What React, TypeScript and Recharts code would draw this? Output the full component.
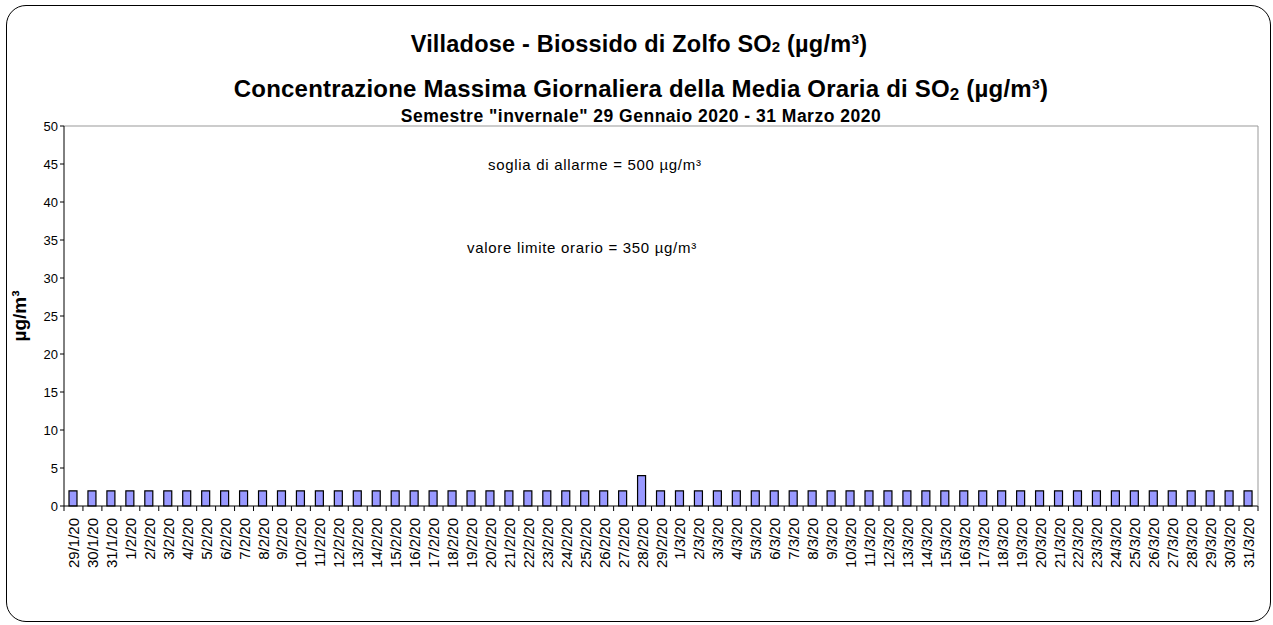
import React from "react";
import { BarChart, Bar, XAxis, YAxis, ReferenceLine } from "recharts";

const dates = [
  "29/1/20", "30/1/20", "31/1/20",
  "1/2/20", "2/2/20", "3/2/20", "4/2/20", "5/2/20", "6/2/20", "7/2/20", "8/2/20", "9/2/20", "10/2/20",
  "11/2/20", "12/2/20", "13/2/20", "14/2/20", "15/2/20", "16/2/20", "17/2/20", "18/2/20", "19/2/20", "20/2/20",
  "21/2/20", "22/2/20", "23/2/20", "24/2/20", "25/2/20", "26/2/20", "27/2/20", "28/2/20", "29/2/20",
  "1/3/20", "2/3/20", "3/3/20", "4/3/20", "5/3/20", "6/3/20", "7/3/20", "8/3/20", "9/3/20", "10/3/20",
  "11/3/20", "12/3/20", "13/3/20", "14/3/20", "15/3/20", "16/3/20", "17/3/20", "18/3/20", "19/3/20", "20/3/20",
  "21/3/20", "22/3/20", "23/3/20", "24/3/20", "25/3/20", "26/3/20", "27/3/20", "28/3/20", "29/3/20", "30/3/20",
  "31/3/20",
];

const so2Values = [
  2, 2, 2,
  2, 2, 2, 2, 2, 2, 2, 2, 2, 2,
  2, 2, 2, 2, 2, 2, 2, 2, 2, 2,
  2, 2, 2, 2, 2, 2, 2, 4, 2,
  2, 2, 2, 2, 2, 2, 2, 2, 2, 2,
  2, 2, 2, 2, 2, 2, 2, 2, 2, 2,
  2, 2, 2, 2, 2, 2, 2, 2, 2, 2,
  2,
];

const yTicks = [0, 5, 10, 15, 20, 25, 30, 35, 40, 45, 50];

const data = dates.map((d, i) => ({ name: d, so2: so2Values[i] }));

const FONT = "'Liberation Sans', Arial, sans-serif";
const PLOT_LEFT = 64;
const PLOT_RIGHT = 1258;
const STEP = (PLOT_RIGHT - PLOT_LEFT) / dates.length;

// Excel-like tick: label in the middle, tick mark on the category boundary
const DateTick = ({ x, y, payload, index }: any) => {
  const isLast = index === dates.length - 1;
  return (
    <g>
      <line x1={x - STEP / 2} x2={x - STEP / 2} y1={y - 8} y2={y - 3} stroke="#000" />
      {isLast && <line x1={x + STEP / 2} x2={x + STEP / 2} y1={y - 8} y2={y - 3} stroke="#000" />}
      <text
        x={x + 5.5}
        y={y + 4}
        transform={`rotate(-90, ${x + 5.5}, ${y + 4})`}
        textAnchor="end"
        fontSize={15}
        fontFamily={FONT}
        fill="#000"
      >
        {payload.value}
      </text>
    </g>
  );
};

export default function App() {
  return (
    <div style={{ position: "absolute", left: 0, top: 0, width: 1273, height: 625, background: "#fff", fontFamily: FONT }}>
      <div
        style={{
          position: "absolute",
          left: 6,
          top: 5,
          width: 1263,
          height: 615,
          border: "1.5px solid #000",
          borderRadius: 20,
        }}
      />
      <div style={{ position: "absolute", left: 0, top: 31, width: 1278, textAlign: "center", fontSize: 23.5, letterSpacing: 0.2, fontWeight: "bold", color: "#000" }}>
        Villadose - Biossido di Zolfo SO<span style={{ fontSize: 15 }}>2</span> (µg/m³)
      </div>
      <div style={{ position: "absolute", left: 0, top: 75, width: 1282, textAlign: "center", fontSize: 24, letterSpacing: 0.2, fontWeight: "bold", color: "#000" }}>
        Concentrazione Massima Giornaliera della Media Oraria di SO<sub style={{ fontSize: 17, verticalAlign: "-3px" }}>2</sub> (µg/m³)
      </div>
      <div style={{ position: "absolute", left: 0, top: 106, width: 1282, textAlign: "center", fontSize: 17.5, letterSpacing: 0.5, fontWeight: "bold", color: "#000" }}>
        Semestre "invernale" 29 Gennaio 2020 - 31 Marzo 2020
      </div>

      <div style={{ position: "absolute", left: 0, top: 0 }}>
        <BarChart
          width={1273}
          height={625}
          data={data}
          margin={{ top: 126, right: 14, left: 24, bottom: 49 }}
          barSize={8}
        >
          <XAxis
            dataKey="name"
            interval={0}
            stroke="#000"
            tickLine={false}
            height={70}
            tick={<DateTick />}
          />
          <YAxis
            domain={[0, 50]}
            ticks={yTicks}
            stroke="#000"
            width={40}
            tickSize={4}
            tick={{ fontSize: 13, fill: "#000", fontFamily: FONT }}
            label={{
              value: "µg/m³",
              angle: -90,
              position: "insideLeft",
              offset: -5,
              style: { fontSize: 19, fontWeight: "bold", fill: "#000", fontFamily: FONT, textAnchor: "middle" },
            }}
          />
          <YAxis yAxisId="right" orientation="right" domain={[0, 50]} stroke="#999" tick={false} tickLine={false} width={1} />
          <ReferenceLine y={50} stroke="#999" />
          <Bar dataKey="so2" fill="#9999FF" stroke="#000" strokeWidth={1.2} isAnimationActive={false} />
        </BarChart>
      </div>

      <div style={{ position: "absolute", left: 488, top: 156, fontSize: 15, letterSpacing: 0.7, color: "#000" }}>
        soglia di allarme = 500 µg/m³
      </div>
      <div style={{ position: "absolute", left: 467, top: 239, fontSize: 15, letterSpacing: 0.7, color: "#000" }}>
        valore limite orario = 350 µg/m³
      </div>
    </div>
  );
}
